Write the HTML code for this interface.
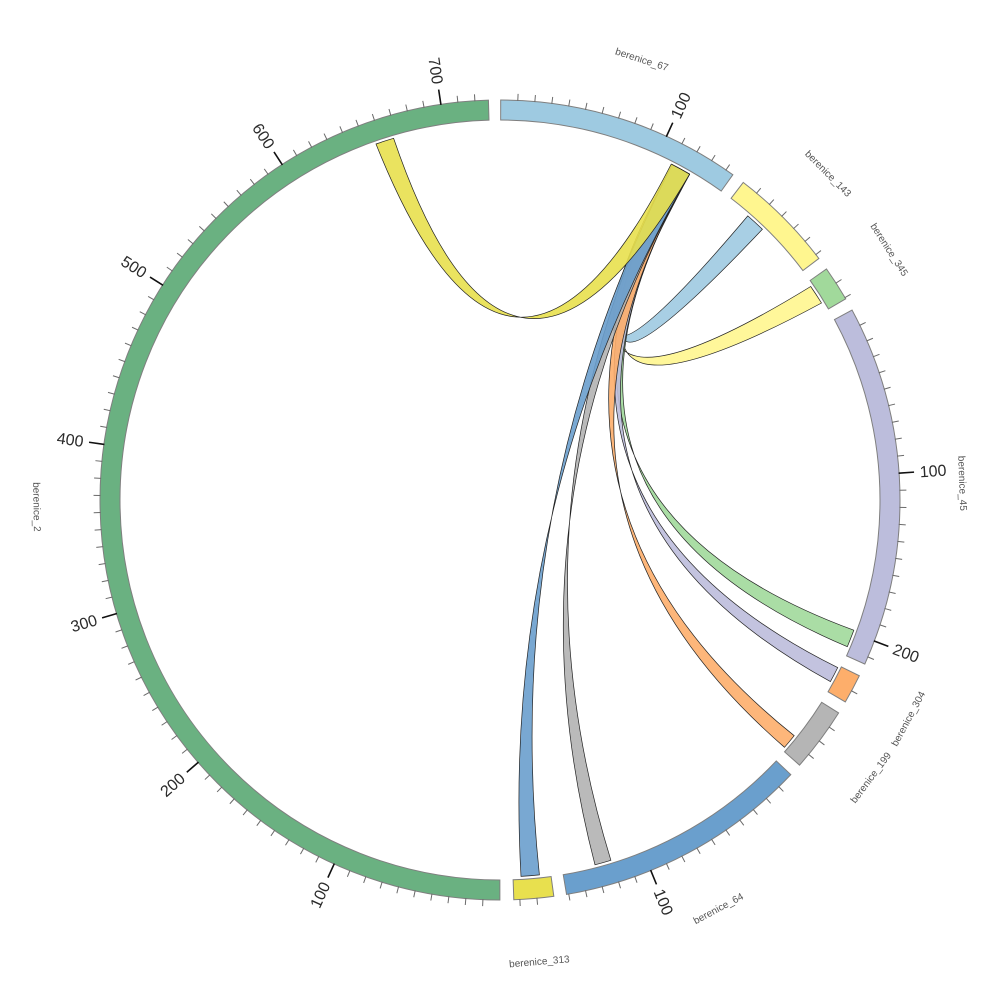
<!DOCTYPE html>
<html><head><meta charset="utf-8"><style>html,body{margin:0;padding:0;background:#fff}svg{display:block}</style></head>
<body>
<svg width="1000" height="1000" viewBox="0 0 1000 1000" xmlns="http://www.w3.org/2000/svg">
<rect width="1000" height="1000" fill="#fff"/>
<defs>
<path id="ring" d="M500,110 A390,390 0 1,1 500,890 A390,390 0 1,1 500,110" fill="none"/>
<line id="t" x1="500" y1="100.5" x2="500" y2="93.5" stroke="#6a6a6a" stroke-width="1"/>
<g id="T5">
<use href="#t" transform="rotate(2.45 500 500)"/>
<use href="#t" transform="rotate(4.9 500 500)"/>
<use href="#t" transform="rotate(7.35 500 500)"/>
<use href="#t" transform="rotate(9.8 500 500)"/>
<use href="#t" transform="rotate(12.25 500 500)"/>
</g>
<g id="T10"><use href="#T5"/><use href="#T5" transform="rotate(12.25 500 500)"/></g>
<line id="M" x1="500" y1="100.5" x2="500" y2="85" stroke="#111" stroke-width="1.6"/>
</defs>

<!-- chords -->
<g stroke="#222" stroke-width="0.7" fill-opacity="0.9">
<path fill="#fff68f" d="M672.3,164.7 Q505,474 810.7,286.5 A377,377 0 0 1 821.5,303.0 Q505,474 689.6,174.2 A377,377 0 0 0 672.3,164.7 Z"/>
<path fill="#9ecae1" d="M672.3,164.7 Q525,480 747.8,215.9 A377,377 0 0 1 762.4,229.3 Q525,480 689.6,174.2 A377,377 0 0 0 672.3,164.7 Z"/>
<path fill="#a1d99b" d="M672.3,164.7 Q500,500 853.8,630.2 A377,377 0 0 1 847.3,646.7 Q500,500 689.6,174.2 A377,377 0 0 0 672.3,164.7 Z"/>
<path fill="#bcbddc" d="M672.3,164.7 Q500,500 837.7,667.6 A377,377 0 0 1 830.4,681.6 Q500,500 689.6,174.2 A377,377 0 0 0 672.3,164.7 Z"/>
<path fill="#fdae6b" d="M672.3,164.7 Q500,500 794.2,735.7 A377,377 0 0 1 784.5,747.3 Q500,500 689.6,174.2 A377,377 0 0 0 672.3,164.7 Z"/>
<path fill="#b3b3b3" d="M672.3,164.7 Q500,500 610.9,860.3 A377,377 0 0 1 595.0,864.8 Q500,500 689.6,174.2 A377,377 0 0 0 672.3,164.7 Z"/>
<path fill="#6a9fcd" d="M672.3,164.7 Q500,500 539.4,874.9 A377,377 0 0 1 521.0,876.4 Q500,500 689.6,174.2 A377,377 0 0 0 672.3,164.7 Z"/>
<path fill="#e8e04e" d="M376.0,144.0 Q510,480 671.2,164.1 A377,377 0 0 1 689.6,174.2 Q510,480 393.6,138.3 A377,377 0 0 0 376.0,144.0 Z"/>
</g>

<!-- segments: border then fill -->
<g>
<use href="#ring" stroke="#7f7f7f" stroke-width="21" stroke-dasharray="242.641 2207.801" stroke-dashoffset="-0.1807"/>
<use href="#ring" stroke="#9ecae1" stroke-width="19" stroke-dasharray="240.641 2209.801" stroke-dashoffset="-1.1807"/>
<use href="#ring" stroke="#7f7f7f" stroke-width="21" stroke-dasharray="105.824 2344.618" stroke-dashoffset="-254.414"/>
<use href="#ring" stroke="#fff68f" stroke-width="19" stroke-dasharray="103.824 2346.618" stroke-dashoffset="-255.414"/>
<use href="#ring" stroke="#7f7f7f" stroke-width="21" stroke-dasharray="35.715 2414.727" stroke-dashoffset="-371.831"/>
<use href="#ring" stroke="#a1d99b" stroke-width="19" stroke-dasharray="33.715 2416.727" stroke-dashoffset="-372.831"/>
<use href="#ring" stroke="#7f7f7f" stroke-width="21" stroke-dasharray="358.696 2091.746" stroke-dashoffset="-419.138"/>
<use href="#ring" stroke="#bcbddc" stroke-width="19" stroke-dasharray="356.696 2093.746" stroke-dashoffset="-420.138"/>
<use href="#ring" stroke="#7f7f7f" stroke-width="21" stroke-dasharray="29.929 2420.513" stroke-dashoffset="-789.427"/>
<use href="#ring" stroke="#fdae6b" stroke-width="19" stroke-dasharray="27.929 2422.513" stroke-dashoffset="-790.427"/>
<use href="#ring" stroke="#7f7f7f" stroke-width="21" stroke-dasharray="64.643 2385.799" stroke-dashoffset="-830.949"/>
<use href="#ring" stroke="#b5b5b5" stroke-width="19" stroke-dasharray="62.643 2387.799" stroke-dashoffset="-831.949"/>
<use href="#ring" stroke="#7f7f7f" stroke-width="21" stroke-dasharray="253.191 2197.251" stroke-dashoffset="-907.185"/>
<use href="#ring" stroke="#6a9fcd" stroke-width="19" stroke-dasharray="251.191 2199.251" stroke-dashoffset="-908.185"/>
<use href="#ring" stroke="#7f7f7f" stroke-width="21" stroke-dasharray="40.139 2410.303" stroke-dashoffset="-1171.968"/>
<use href="#ring" stroke="#e8e04e" stroke-width="19" stroke-dasharray="38.139 2412.303" stroke-dashoffset="-1172.968"/>
<use href="#ring" stroke="#7f7f7f" stroke-width="21" stroke-dasharray="1214.649 1235.793" stroke-dashoffset="-1224.721"/>
<use href="#ring" stroke="#6ab181" stroke-width="19" stroke-dasharray="1212.649 1237.793" stroke-dashoffset="-1225.721"/>
</g>

<!-- minor ticks -->
<g transform="rotate(0.1 500 500)"><use href="#T10"/>
<use href="#t" transform="rotate(26.95 500 500)"/><use href="#t" transform="rotate(29.4 500 500)"/><use href="#t" transform="rotate(31.85 500 500)"/><use href="#t" transform="rotate(34.3 500 500)"/></g>
<g transform="rotate(37.45 500 500)"><use href="#T5"/><use href="#t" transform="rotate(14.7 500 500)"/></g>
<g transform="rotate(54.7 500 500)"><use href="#t" transform="rotate(2.45 500 500)"/><use href="#t" transform="rotate(4.9 500 500)"/></g>
<g transform="rotate(61.65 500 500)"><use href="#T10"/><use href="#T10" transform="rotate(24.5 500 500)"/><use href="#t" transform="rotate(51.45 500 500)"/></g>
<g transform="rotate(116.05 500 500)"><use href="#t" transform="rotate(2.45 500 500)"/></g>
<g transform="rotate(122.15 500 500)"><use href="#t" transform="rotate(2.45 500 500)"/><use href="#t" transform="rotate(4.9 500 500)"/><use href="#t" transform="rotate(7.35 500 500)"/></g>
<g transform="rotate(133.35 500 500)"><use href="#T10"/><use href="#T5" transform="rotate(24.5 500 500)"/></g>
<g transform="rotate(172.25 500 500)"><use href="#t" transform="rotate(2.45 500 500)"/><use href="#t" transform="rotate(4.9 500 500)"/></g>
<g transform="rotate(180 500 500)"><use href="#T10"/><use href="#T10" transform="rotate(24.5 500 500)"/><use href="#T10" transform="rotate(49 500 500)"/><use href="#T10" transform="rotate(73.5 500 500)"/><use href="#T10" transform="rotate(98 500 500)"/><use href="#T10" transform="rotate(122.5 500 500)"/><use href="#T10" transform="rotate(147 500 500)"/><use href="#t" transform="rotate(173.95 500 500)"/><use href="#t" transform="rotate(176.4 500 500)"/></g>

<!-- major ticks -->
<use href="#M" transform="rotate(24.6 500 500)"/>
<use href="#M" transform="rotate(86.15 500 500)"/>
<use href="#M" transform="rotate(110.65 500 500)"/>
<use href="#M" transform="rotate(157.85 500 500)"/>
<use href="#M" transform="rotate(204.5 500 500)"/>
<use href="#M" transform="rotate(229 500 500)"/>
<use href="#M" transform="rotate(253.5 500 500)"/>
<use href="#M" transform="rotate(278 500 500)"/>
<use href="#M" transform="rotate(302.5 500 500)"/>
<use href="#M" transform="rotate(327 500 500)"/>
<use href="#M" transform="rotate(351.5 500 500)"/>

<!-- tick labels -->
<g font-family="Liberation Sans, sans-serif" font-size="16" fill="#2a2a2a" text-anchor="middle">
<text transform="rotate(24.6 500 500) translate(500 66) rotate(-90)" dy="0.35em">100</text>
<text transform="rotate(86.15 500 500) translate(500 66) rotate(-90)" dy="0.35em">100</text>
<text transform="rotate(110.65 500 500) translate(500 66) rotate(-90)" dy="0.35em">200</text>
<text transform="rotate(157.85 500 500) translate(500 66) rotate(-90)" dy="0.35em">100</text>
<text transform="rotate(204.5 500 500) translate(500 66) rotate(90)" dy="0.35em">100</text>
<text transform="rotate(229 500 500) translate(500 66) rotate(90)" dy="0.35em">200</text>
<text transform="rotate(253.5 500 500) translate(500 66) rotate(90)" dy="0.35em">300</text>
<text transform="rotate(278 500 500) translate(500 66) rotate(90)" dy="0.35em">400</text>
<text transform="rotate(302.5 500 500) translate(500 66) rotate(90)" dy="0.35em">500</text>
<text transform="rotate(327 500 500) translate(500 66) rotate(90)" dy="0.35em">600</text>
<text transform="rotate(351.5 500 500) translate(500 66) rotate(90)" dy="0.35em">700</text>
</g>

<!-- segment names -->
<g font-family="Liberation Sans, sans-serif" font-size="10" fill="#555" text-anchor="middle">
<text transform="rotate(17.85 500 500) translate(500 37)" dy="0.35em">berenice_67</text>
<text transform="rotate(45.15 500 500) translate(500 37)" dy="0.35em">berenice_143</text>
<text transform="rotate(57.25 500 500) translate(500 37)" dy="0.35em">berenice_345</text>
<text transform="rotate(87.93 500 500) translate(500 37)" dy="0.35em">berenice_45</text>
<text transform="rotate(118.18 500 500) translate(500 37) rotate(180)" dy="0.35em">berenice_304</text>
<text transform="rotate(126.83 500 500) translate(500 37) rotate(180)" dy="0.35em">berenice_199</text>
<text transform="rotate(151.88 500 500) translate(500 37) rotate(180)" dy="0.35em">berenice_64</text>
<text transform="rotate(175.13 500 500) translate(500 37) rotate(180)" dy="0.35em">berenice_313</text>
<text transform="rotate(269.15 500 500) translate(500 37) rotate(180)" dy="0.35em">berenice_2</text>
</g>
</svg>
</body></html>
